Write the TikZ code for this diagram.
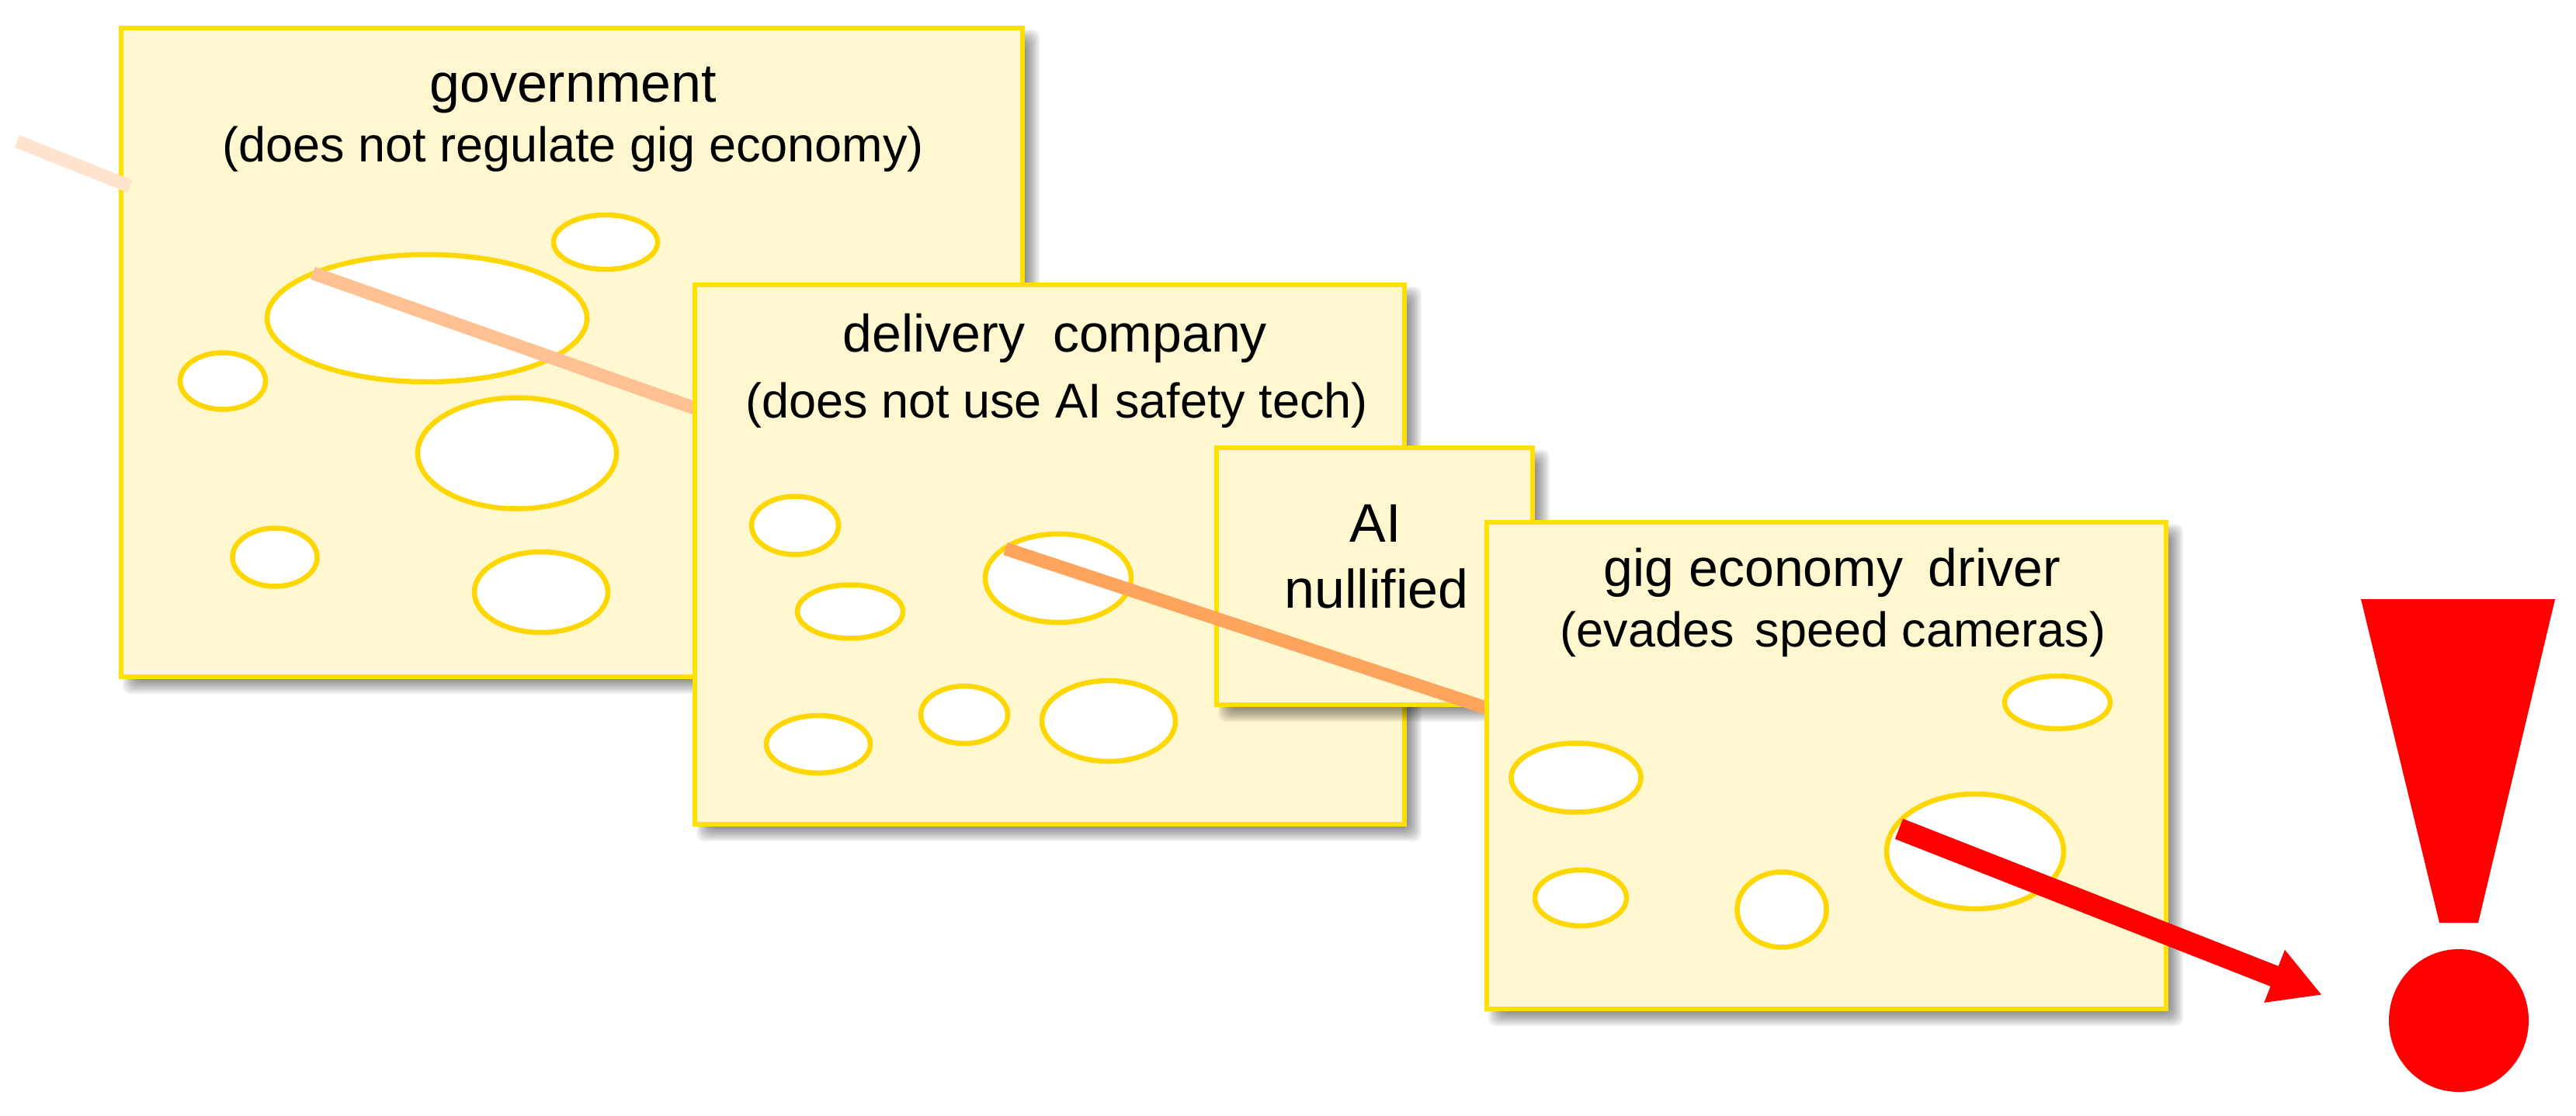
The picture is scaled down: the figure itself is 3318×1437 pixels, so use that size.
\documentclass[tikz,border=0pt]{standalone}
\usepackage{fontspec}
\setmainfont{Liberation Sans}
\usetikzlibrary{shapes.geometric,arrows.meta}
\definecolor{cheese}{HTML}{FFF7CF}
\definecolor{cheeseedge}{HTML}{FFE000}
\definecolor{holeedge}{HTML}{FFD700}
\definecolor{trajA}{HTML}{FFE3CE}
\definecolor{trajB}{HTML}{FFC191}
\definecolor{trajC}{HTML}{FFA45C}
\tikzset{
  slice/.style={rectangle,draw=cheeseedge,fill=cheese,line width=6.5pt,inner sep=0pt},
  hole/.style={ellipse,draw=holeedge,fill=white,line width=6.5pt,inner sep=0pt},
  big/.style={anchor=base,inner sep=0pt,font=\fontsize{70}{84}\selectfont},
  bigb/.style={anchor=base,inner sep=0pt,font=\fontsize{68}{82}\selectfont},
  small/.style={anchor=base,inner sep=0pt,font=\fontsize{63}{76}\selectfont},
  traj/.style={line width=17pt,line cap=butt},
}
% soft shadow then the slice itself: name, cx, cy, w, h
\newcommand{\slicebox}[5]{%
  \foreach \g in {-10,-8,-6,-4,-2,0,2,4,6,8,10}{%
    \fill[black,opacity=0.055,rounded corners=10pt]
      ({#2-#4/2+12-\g},{#3-#5/2+12-\g}) rectangle ({#2+#4/2+12+\g},{#3+#5/2+12+\g});}%
  \node[slice,minimum width=#4pt,minimum height=#5pt] (#1) at (#2,#3) {};}
\begin{document}
\begin{tikzpicture}[x=1pt,y=-1pt]
\useasboundingbox (0,0) rectangle (3318,1437);
% government slice
\slicebox{gov}{736.5}{454}{1161}{836}
\node[big] (govt) at (738,131) {government};
\node[small] (govs) at (738,208) {(does not regulate gig economy)};
\node[hole,minimum width=412pt,minimum height=164pt] (g1) at (550,410) {};
\node[hole,minimum width=134pt,minimum height=70pt] (g2) at (780,312) {};
\node[hole,minimum width=110pt,minimum height=73pt] (g3) at (287,491) {};
\node[hole,minimum width=256pt,minimum height=143pt] (g4) at (666,584) {};
\node[hole,minimum width=109pt,minimum height=75pt] (g5) at (354,718) {};
\node[hole,minimum width=172pt,minimum height=104pt] (g6) at (697,763) {};
\coordinate (s0) at (22,182);
\coordinate (s1) at (167,240);
\coordinate (s2) at (403,352);
\coordinate (s3) at (895,526);
\draw[traj,trajA] (s0) -- (s1);
\draw[traj,trajB] (s2) -- (s3);
% delivery company slice
\slicebox{del}{1352}{714.5}{914}{695}
\node[bigb] (delt) at (1359,453) {delivery\hspace{0.25em} company};
\node[small] (dels) at (1361,538) {(does not use AI safety tech)};
\node[hole,minimum width=112pt,minimum height=75pt] (d1) at (1024,677) {};
\node[hole,minimum width=136pt,minimum height=69pt] (d2) at (1095,788) {};
\node[hole,minimum width=188pt,minimum height=114pt] (d3) at (1363,745) {};
\node[hole,minimum width=134pt,minimum height=74pt] (d4) at (1054,959) {};
\node[hole,minimum width=112pt,minimum height=74pt] (d5) at (1242,921) {};
\node[hole,minimum width=172pt,minimum height=104pt] (d6) at (1428,929) {};
% AI slice
\slicebox{ai}{1770.5}{742.5}{407}{331}
\node[big] (ait) at (1772,698) {AI};
\node[big] (ais) at (1773,783) {nullified};
\coordinate (s4) at (1295,707);
\coordinate (s5) at (1917,913);
\draw[traj,trajC] (s4) -- (s5);
% driver slice
\slicebox{drv}{2352.5}{986.5}{875}{627}
\node[bigb] (drvt) at (2360,755) {gig economy\hspace{0.2em} driver};
\node[small] (drvs) at (2361,833) {(evades\hspace{0.15em} speed cameras)};
\node[hole,minimum width=136pt,minimum height=68pt] (v1) at (2650,905) {};
\node[hole,minimum width=167pt,minimum height=89pt] (v2) at (2030,1002) {};
\node[hole,minimum width=118pt,minimum height=72pt] (v3) at (2036,1157) {};
\node[hole,minimum width=115pt,minimum height=97pt] (v4) at (2295,1172) {};
\node[hole,minimum width=228pt,minimum height=148pt] (v5) at (2544,1097) {};
\coordinate (s6) at (2446,1068);
\coordinate (s7) at (2991,1282);
\draw[line width=28pt,red,-{Triangle[length=66pt,width=68pt]}] (s6) -- (s7);
% exclamation mark
\fill[red] (3041,772) -- (3291,772) -- (3192,1189) -- (3142,1189) -- cycle;
\node[ellipse,fill=red,inner sep=0pt,minimum width=180pt,minimum height=184pt] (dot) at (3167,1315) {};
\end{tikzpicture}
\end{document}
